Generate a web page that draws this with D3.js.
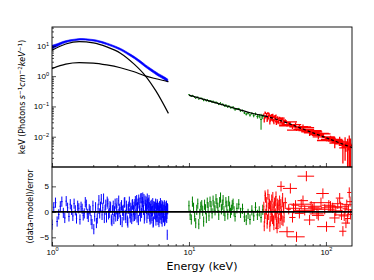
<!DOCTYPE html>
<html lang="en">
<head>
<meta charset="utf-8">
<title>Spectrum fit</title>
<script src="https://d3js.org/d3.v7.min.js"></script>
<style>
  body { margin: 0; background: #fff; }
  svg { display: block; font-family: "DejaVu Sans", sans-serif; }
  .frame { fill: none; stroke: #000; stroke-width: 0.9; }
  .axis text { font-size: 8px; fill: #000; }
  .axis line { stroke: #000; stroke-width: 0.7; }
  .axis path { display: none; }
</style>
</head>
<body>
<script>
// ---- model components (soft band, 1-7 keV) ----
var compE  = [1.0, 1.26, 1.58, 2.0, 2.51, 3.16, 3.98, 4.79, 5.75, 7.08];
var bbodyF = [7.2, 11.5, 13.8, 12.6, 9.3, 5.75, 2.5, 1.05, 0.32, 0.059];
var plawF  = [1.78, 2.5, 2.8, 2.7, 2.35, 1.9, 1.4, 1.02, 0.82, 0.66];

// ---- hard band model ----
var modelE = [10, 14, 20, 28, 36, 45, 55, 70, 85, 100, 120, 140, 155];
var modelF = [0.236, 0.153, 0.096, 0.062, 0.048, 0.036, 0.026, 0.017, 0.0122, 0.0093, 0.0068, 0.0052, 0.0044];

// ---- blue spectrum (top panel) ----
var blueSpecE   = [1.0, 1.1, 1.2, 1.3, 1.4, 1.5, 1.6, 1.75, 1.9, 2.1, 2.3, 2.5, 2.75, 3.0, 3.3, 3.6, 4.0, 4.4, 4.8, 5.2, 5.6, 6.0, 6.5, 7.0];
var blueSpecF   = [9.2, 10.8, 12.9, 14.3, 15.3, 16.0, 16.6, 16.4, 15.7, 14.8, 13.3, 11.8, 10.1, 8.6, 7.0, 5.5, 4.1, 3.0, 2.2, 1.7, 1.35, 1.1, 0.9, 0.72];
var blueSpecErr = [1.2, 1.1, 1.0, 0.95, 0.9, 0.9, 0.9, 0.9, 0.9, 0.85, 0.8, 0.75, 0.65, 0.58, 0.5, 0.42, 0.33, 0.26, 0.2, 0.16, 0.13, 0.11, 0.09, 0.08];

// ---- blue residuals ----
var blueResE = [1.00,1.03,1.06,1.09,1.12,1.15,1.18,1.21,1.24,1.27,1.30,1.33,1.36,1.39,1.42,1.45,1.48,1.51,1.54,1.57,
                1.60,1.63,1.66,1.69,1.72,1.75,1.78,1.81,1.84,1.87,1.90,1.93,1.96,1.99,2.02,2.05,2.08,2.11,2.14,2.17,
                2.20,2.23,2.26,2.29,2.32,2.35,2.38,2.41,2.44,2.47,2.50,2.53,2.56,2.59,2.62,2.65,2.68,2.71,2.74,2.77,
                2.80,2.83,2.86,2.89,2.92,2.95,2.98,3.01,3.04,3.07,3.10,3.13,3.16,3.19,3.22,3.25,3.28,3.31,3.34,3.37,
                3.40,3.43,3.46,3.49,3.52,3.55,3.58,3.61,3.64,3.67,3.70,3.73,3.76,3.79,3.82,3.85,3.88,3.91,3.94,3.97,
                4.00,4.03,4.06,4.09,4.12,4.15,4.18,4.21,4.24,4.27,4.30,4.33,4.36,4.39,4.42,4.45,4.48,4.51,4.54,4.57,
                4.60,4.63,4.66,4.69,4.72,4.75,4.78,4.81,4.84,4.87,4.90,4.93,4.96,4.99,5.02,5.05,5.08,5.11,5.14,5.17,
                5.20,5.23,5.26,5.29,5.32,5.35,5.38,5.41,5.44,5.47,5.50,5.53,5.56,5.59,5.62,5.65,5.68,5.71,5.74,5.77,
                5.80,5.83,5.86,5.89,5.92,5.95,5.98,6.01,6.04,6.07,6.10,6.13,6.16,6.19,6.22,6.25,6.28,6.31,6.34,6.37,
                6.40,6.43,6.46,6.49,6.52,6.55,6.58,6.61,6.64,6.67,6.70,6.73,6.76,6.79,6.82,6.85,6.88,6.91,6.94,6.97,
                7.00];
var blueRes = [-2.5,0.9, 1.8,-1.9, -0.5,1.1, 2.0,-0.2, -1.2,2.1, 0.8,-0.9, 1.5,0.4, -0.8,1.6, 0.3,-1.3, 1.2,0.7,
               -1.5,1.0, 0.6,-0.7, -0.3,1.9, 1.4,-0.4, -1.0,0.5, 0.2,-1.6, -2.4,1.2, -3.4,-0.9, 0.9,-2.2, -1.3,0.6,
               2.3,-0.3, 1.0,2.5, -0.6,0.8, 2.6,-1.2, 0.4,1.4, -1.1,2.0, 1.6,-0.5, -0.2,1.1, 0.9,-1.5, -1.8,0.3,
               1.2,-1.4, 0.1,1.6, -0.9,0.5, 1.7,-0.8, -0.4,2.2, 0.6,-0.1, -1.6,0.9, 1.3,-2.0, 0.2,0.4, -0.7,1.8,
               1.9,-0.6, -1.2,1.2, 0.5,-1.7, -2.1,0.6, 1.0,2.0, -0.3,-1.1, 0.8,0.2, -1.4,1.4, 1.5,-0.9, 0.3,1.0,
               -0.8,1.5, 2.1,-0.5, 0.7,2.3, -1.1,0.9, 1.6,-1.6, 2.4,1.8, 0.2,0.5, -0.9,2.6, 2.7,-0.2, 1.1,1.9,
               2.8,1.2, 0.4,2.5, -1.3,-0.7, 2.2,0.8, 1.4,2.0, 0.6,-1.2, 2.6,1.5, -0.4,0.3, 1.8,2.3, 0.9,-0.9,
               -1.5,0.6, 1.2,-1.3, 0.1,1.4, -0.8,0.2, 1.7,-2.1, -1.9,1.1, 0.5,-0.4, 1.0,0.9, -0.6,1.6, -1.7,-1.0,
               0.8,-0.3, 1.5,1.2, -1.0,-1.6, 0.3,0.8, -2.0,0.1, 1.1,-1.2, -0.5,1.7, 0.7,-0.6, -1.4,0.5, 1.3,-1.9,
               -0.2,1.1, 0.9,-0.8, -1.1,0.4, 0.4,1.3, -1.8,-1.5, 1.0,0.2, -0.7,-1.0, 0.6,1.2, -1.2,-0.4, -4.5,0.7,
               0.5];

// ---- green spectrum + residuals ----
var greenE   = [10.0,10.2,10.4,10.6,10.8,11.0,11.2,11.4,11.6,11.8,12.0,12.2,12.4,12.6,12.8,13.0,13.2,13.4,13.6,13.8,
                14.0,14.25,14.5,14.75,15.0,15.25,15.5,15.75,16.0,16.25,16.5,16.75,17.0,17.25,17.5,17.75,18.0,18.3,18.6,18.9,
                19.2,19.5,19.8,20.1,20.4,20.7,21.0,21.35,21.7,22.4,23.1,23.8,24.6,25.4,26.2,27.0,27.9,28.8,29.7,30.6,
                31.6,32.6,33.6,34.6];
var greenF   = [0.245,0.226,0.214,0.232,0.218,0.202,0.187,0.200,0.204,0.175,0.182,0.187,0.186,0.174,0.156,0.172,0.165,0.153,0.167,0.157,
                0.145,0.155,0.150,0.138,0.149,0.138,0.132,0.139,0.135,0.126,0.116,0.125,0.131,0.115,0.119,0.117,0.108,0.101,0.112,0.104,
                0.095,0.103,0.100,0.091,0.092,0.092,0.096,0.085,0.078,0.083,0.084,0.072,0.0735,0.0615,0.0557,0.060,0.052,0.0587,0.0497,0.057,
                0.0465,0.0485,0.037,0.046];
var greenErr = [0.007,0.007,0.007,0.007,0.007,0.007,0.007,0.007,0.007,0.007,0.0065,0.0065,0.007,0.0065,0.007,0.0065,0.0065,0.0065,0.0065,0.0063,
                0.006,0.006,0.006,0.006,0.006,0.006,0.006,0.0058,0.0057,0.0056,0.0055,0.0056,0.0058,0.0055,0.0055,0.0055,0.0055,0.0055,0.0055,0.0055,
                0.0055,0.0055,0.0055,0.0055,0.0055,0.0055,0.0055,0.0055,0.0055,0.0055,0.0055,0.0055,0.0055,0.0055,0.0055,0.0055,0.006,0.006,0.006,0.006,
                0.007,0.008,0.02,0.008];
var greenRes = [1.2,-0.6,-1.5,2.0,0.8,-0.9,-2.2,0.4,1.6,-2.4,-0.4,1.0,1.3,0.2,-1.9,1.4,0.5,-1.2,1.8,0.9,
                -0.8,2.0,1.1,-0.3,2.2,1.1,0.3,2.5,1.7,0.8,-0.6,1.9,2.8,0.5,1.4,2.3,0.2,-0.8,1.9,1.2,
                -0.5,2.1,1.0,-0.2,0.4,1.3,1.6,0.1,-0.9,0.7,1.5,-0.2,0.6,-1.0,-1.6,-0.4,-1.5,0.3,-0.8,0.9,
                -0.6,0.1,-1.1,0.4];

// ---- red spectrum + residuals ----
var redE   = [35.2,35.45,35.7,35.95,36.2,36.45,36.7,36.95,37.2,37.45,37.7,37.95,38.2,38.45,38.7,38.95,39.2,39.45,39.7,39.95,
              40.2,40.45,40.7,40.95,41.2,41.45,41.7,41.95,42.2,42.45,42.7,42.95,43.2,43.45,43.7,43.95,44.0,44.2,44.45,44.7,
              44.95,45.3,45.6,45.9,46.2,46.5,46.8,47.0,47.1,47.4,47.7,48.0,48.3,48.6,48.9,49.2,49.5,50.5,52.0,53.5,
              55.0,57.0,58.0,60.0,61.0,64.0,66.0,68.0,70.0,72.0,76.0,78.0,80.0,82.0,86.0,88.0,92.0,95.0,98.0,101.0,
              105.0,108.0,112.0,116.0,118.0,122.0,126.0,128.0,130.0,133.0,136.0,138.0,140.0,142.0,144.0,146.0,148.0,150.0,151.0];
var redDE  = [0.3,0.25,0.3,0.25,0.3,0.25,0.3,0.25,0.3,0.25,0.3,0.25,0.3,0.25,0.3,0.25,0.3,0.25,0.3,0.25,
              0.3,0.25,0.3,0.25,0.3,0.25,0.3,0.25,0.3,0.25,0.3,0.25,0.3,0.25,0.3,0.25,1.5,0.3,0.25,0.3,
              0.25,0.3,0.25,0.3,0.25,0.3,0.25,3.0,0.3,0.25,0.3,0.25,0.3,0.25,0.3,0.25,0.3,1.5,6.5,2.0,
              6.5,3.0,8.0,4.0,9.0,5.0,12.0,6.0,12.0,10.0,7.0,15.0,14.0,8.0,10.0,9.0,16.0,10.0,18.0,15.0,
              12.0,10.0,20.0,10.0,15.0,12.0,8.0,18.0,15.0,8.0,12.0,6.0,10.0,12.0,6.0,9.0,5.0,8.0,4.0];
var redF   = [0.0539,0.035,0.0427,0.063,0.0611,0.046,0.0489,0.055,0.0356,0.039,0.061,0.049,0.0421,0.056,0.0507,0.031,0.0357,0.048,0.0441,0.039,
              0.0523,0.044,0.0358,0.053,0.0447,0.034,0.0299,0.045,0.047,0.037,0.0381,0.047,0.0503,0.029,0.0344,0.041,0.031,0.040,0.043,0.0298,
              0.032,0.0402,0.037,0.0426,0.027,0.0315,0.039,0.041,0.0342,0.032,0.0276,0.039,0.0408,0.026,0.0337,0.034,0.0275,0.0336,0.023,0.028,
              0.031,0.022,0.025,0.025,0.0165,0.0198,0.021,0.0215,0.0175,0.020,0.0135,0.0158,0.0145,0.0138,0.0117,0.0112,0.0125,0.0128,0.0099,0.0075,
              0.0095,0.0088,0.0082,0.0062,0.0072,0.0075,0.0074,0.0067,0.0058,0.0043,0.0052,0.0056,0.0047,0.0056,0.0045,0.0050,0.0060,0.0052,0.0044];
var redErr = [0.0048,0.0055,0.0048,0.0055,0.0048,0.0055,0.0048,0.0055,0.0048,0.0055,0.0048,0.0055,0.0048,0.0055,0.0048,0.0055,0.0048,0.0055,0.0048,0.0055,
              0.0041,0.0048,0.0041,0.0048,0.0041,0.0048,0.0041,0.0048,0.0041,0.0048,0.0041,0.0048,0.0041,0.0048,0.0041,0.0048,0.002,0.0041,0.0048,0.0041,
              0.0048,0.0033,0.004,0.0033,0.004,0.0033,0.004,0.003,0.0033,0.004,0.0033,0.004,0.0033,0.004,0.0033,0.004,0.0033,0.0045,0.0015,0.004,
              0.0012,0.004,0.0015,0.004,0.0011,0.004,0.0015,0.004,0.0012,0.0005,0.003,0.001,0.0012,0.003,0.0012,0.003,0.001,0.0008,0.0007,0.0006,
              0.0007,0.002,0.0006,0.002,0.0006,0.0008,0.0025,0.0005,0.0007,0.003,0.0006,0.004,0.0015,0.001,0.004,0.0015,0.005,0.0012,0.0044];
var redRes = [1.0,-2.8,-1.2,3.2,2.8,-0.4,0.4,1.9,-2.3,-1.5,3.4,0.8,-0.6,2.5,1.5,-2.9,-1.8,1.2,0.3,-0.9,
              2.4,0.5,-1.4,2.9,0.9,-1.7,-2.6,1.1,1.8,-0.6,-0.3,2.1,3.0,-2.4,-1.0,0.9,-3.2,0.6,1.6,-2.0,
              -1.3,1.3,0.4,2.2,-2.2,-0.8,1.5,5.0,0.2,-0.5,-1.6,1.9,2.7,-1.8,0.7,0.9,-1.1,1.8,-3.9,0.5,
              4.6,-1.1,0.7,1.3,-4.9,-0.3,1.5,2.2,0.3,7.0,-1.6,1.1,0.6,0.9,-0.4,-0.7,1.8,3.6,0.5,-2.9,
              1.3,1.1,0.8,-1.2,0.2,1.6,2.7,1.0,-0.6,-3.8,-0.8,0.6,-2.2,1.4,-1.3,0.4,3.8,2.0,-0.5];

var w = 374, h = 280;
var pL = 52, pR = 352, pT = 27, pM = 167, pB = 246;

var x = d3.scaleLog().domain([1, 155]).range([pL, pR]);
var yTop = d3.scaleLog().domain([1e-3, 42]).range([pM, pT]);
var yRes = d3.scaleLinear().domain([-6.7, 8.8]).range([pB, pM]);

var svg = d3.select("body").append("svg").attr("width", w).attr("height", h);

svg.append("clipPath").attr("id", "clipTop").append("rect")
   .attr("x", pL).attr("y", pT).attr("width", pR - pL).attr("height", pM - pT);
svg.append("clipPath").attr("id", "clipRes").append("rect")
   .attr("x", pL).attr("y", pM).attr("width", pR - pL).attr("height", pB - pM);

// bin edges half way to neighbours
function edges(E) {
  var lo = [], hi = [];
  for (var i = 0; i < E.length; i++) {
    var prev = i > 0 ? E[i - 1] : E[i] - (E[i + 1] - E[i]);
    var next = i < E.length - 1 ? E[i + 1] : E[i] + (E[i] - E[i - 1]);
    lo.push((prev + E[i]) / 2);
    hi.push((E[i] + next) / 2);
  }
  return [lo, hi];
}

function crosses(g, E, lo, hi, yv, ylo, yhi, ys, color, sw) {
  var p = d3.path();
  for (var i = 0; i < E.length; i++) {
    p.moveTo(x(lo[i]), ys(yv[i])); p.lineTo(x(hi[i]), ys(yv[i]));
    p.moveTo(x(E[i]), ys(ylo[i])); p.lineTo(x(E[i]), ys(yhi[i]));
  }
  g.append("path").attr("d", p.toString()).attr("fill", "none")
   .attr("stroke", color).attr("stroke-width", sw);
}

var fmin = yTop.domain()[0];
function lowClamp(F, err) { return F.map(function (f, i) { return Math.max(f - err[i], fmin); }); }
function high(F, err) { return F.map(function (f, i) { return f + err[i]; }); }

// ---------- top panel ----------
var gt = svg.append("g").attr("clip-path", "url(#clipTop)");

var blueRows = blueSpecE.map(function (e, i) { return {e: e, f: blueSpecF[i], err: blueSpecErr[i]}; });
gt.append("path").datum(blueRows)
  .attr("fill", "#0000ff").attr("stroke", "#0000ff").attr("stroke-width", 0.6)
  .attr("d", d3.area().x(function (d) { return x(d.e); })
    .y0(function (d) { return yTop(d.f - d.err); })
    .y1(function (d) { return yTop(d.f + d.err); })
    .curve(d3.curveMonotoneX));

var ge = edges(greenE);
crosses(gt, greenE, ge[0], ge[1], greenF, lowClamp(greenF, greenErr), high(greenF, greenErr), yTop, "#008000", 1);

var rlo = redE.map(function (e, i) { return e - redDE[i]; });
var rhi = redE.map(function (e, i) { return e + redDE[i]; });
crosses(gt, redE, rlo, rhi, redF, lowClamp(redF, redErr), high(redF, redErr), yTop, "#ff0000", 1.3);

var line = d3.line().x(function (d) { return x(d[0]); }).y(function (d) { return yTop(d[1]); })
             .curve(d3.curveMonotoneX);
gt.append("path").datum(compE.map(function (e, i) { return [e, bbodyF[i]]; }))
  .attr("d", line).attr("fill", "none").attr("stroke", "#000").attr("stroke-width", 1.2);
gt.append("path").datum(compE.map(function (e, i) { return [e, plawF[i]]; }))
  .attr("d", line).attr("fill", "none").attr("stroke", "#000").attr("stroke-width", 1.2);

var modelPts = modelE.map(function (e, i) { return [e, modelF[i]]; });
gt.append("path").datum(modelPts.filter(function (d) { return d[0] <= 36; }))
  .attr("d", line).attr("fill", "none").attr("stroke", "#000").attr("stroke-width", 1.2);
gt.append("path").datum(modelPts.filter(function (d) { return d[0] >= 36; }))
  .attr("d", line).attr("fill", "none").attr("stroke", "#000").attr("stroke-width", 1.2)
  .attr("stroke-dasharray", "3,2");

// ---------- residual panel ----------
var gr = svg.append("g").attr("clip-path", "url(#clipRes)");

var be = edges(blueResE);
crosses(gr, blueResE, be[0], be[1], blueRes,
        blueRes.map(function (r) { return r - 1; }), blueRes.map(function (r) { return r + 1; }), yRes, "#0000ff", 1);
crosses(gr, greenE, ge[0], ge[1], greenRes,
        greenRes.map(function (r) { return r - 1; }), greenRes.map(function (r) { return r + 1; }), yRes, "#008000", 1);
crosses(gr, redE, rlo, rhi, redRes,
        redRes.map(function (r) { return r - 1; }), redRes.map(function (r) { return r + 1; }), yRes, "#ff0000", 1);

gr.append("line").attr("x1", pL).attr("x2", pR).attr("y1", yRes(0)).attr("y2", yRes(0))
  .attr("stroke", "#000").attr("stroke-width", 1.6);

// ---------- axes ----------
function minus(n) { return n < 0 ? "\u2212" + Math.abs(n) : String(n); }
function powLabels(sel) {
  sel.selectAll(".tick text").each(function (d) {
    var t = d3.select(this);
    t.text(null);
    t.append("tspan").text("10");
    t.append("tspan").attr("dy", "-3.2").style("font-size", "5.6px")
     .text(minus(Math.round(Math.log10(d))));
  });
}
function isMajor(v) { return Math.abs(Math.log10(v) - Math.round(Math.log10(v))) < 1e-9; }

var yMajor = yTop.ticks().filter(isMajor).filter(function (v) { return v > fmin; });
var yMinor = yTop.ticks().filter(function (v) { return !isMajor(v); });
svg.append("g").attr("class", "axis").attr("transform", "translate(" + pL + ",0)")
   .call(d3.axisLeft(yTop).tickValues(yMajor).tickSizeInner(-4).tickSizeOuter(0).tickPadding(3))
   .call(powLabels);
svg.append("g").attr("class", "axis").attr("transform", "translate(" + pL + ",0)")
   .call(d3.axisLeft(yTop).tickValues(yMinor).tickSizeInner(-2).tickSizeOuter(0).tickFormat(""));

var xMajor = x.ticks().filter(isMajor);
var xMinor = x.ticks().filter(function (v) { return !isMajor(v); });
[pM, pB].forEach(function (yy) {
  svg.append("g").attr("class", "axis").attr("transform", "translate(0," + yy + ")")
     .call(d3.axisBottom(x).tickValues(xMajor).tickSizeInner(-4).tickSizeOuter(0).tickFormat(""));
  svg.append("g").attr("class", "axis").attr("transform", "translate(0," + yy + ")")
     .call(d3.axisBottom(x).tickValues(xMinor).tickSizeInner(-2).tickSizeOuter(0).tickFormat(""));
});
svg.append("g").attr("class", "axis").attr("transform", "translate(0," + pB + ")")
   .call(d3.axisBottom(x).tickValues(xMajor).tickSize(0).tickPadding(3))
   .call(powLabels);

svg.append("g").attr("class", "axis").attr("transform", "translate(" + pL + ",0)")
   .call(d3.axisLeft(yRes).tickValues([-5, 0, 5]).tickSizeInner(-4).tickSizeOuter(0).tickPadding(3)
         .tickFormat(minus));

svg.append("rect").attr("class", "frame").attr("x", pL).attr("y", pT)
   .attr("width", pR - pL).attr("height", pM - pT);
svg.append("rect").attr("class", "frame").attr("x", pL).attr("y", pM)
   .attr("width", pR - pL).attr("height", pB - pM);

// ---------- labels ----------
var yl = svg.append("text").attr("transform", "translate(24.5," + (pT + pM) / 2 + ") rotate(-90)")
            .attr("text-anchor", "middle").style("font-size", "8px");
yl.append("tspan").text("keV (Photons ");
yl.append("tspan").style("font-style", "italic").text("s");
yl.append("tspan").attr("dy", -3).style("font-size", "5.6px").text("\u22121");
yl.append("tspan").attr("dy", 3).style("font-style", "italic").text("cm");
yl.append("tspan").attr("dy", -3).style("font-size", "5.6px").text("\u22122");
yl.append("tspan").attr("dy", 3).style("font-style", "italic").text("keV");
yl.append("tspan").attr("dy", -3).style("font-size", "5.6px").text("\u22121");
yl.append("tspan").attr("dy", 3).text(")");

svg.append("text").attr("transform", "translate(32.5," + (pM + pB) / 2 + ") rotate(-90)")
   .attr("text-anchor", "middle").style("font-size", "8px").text("(data-model)/error");

svg.append("text").attr("x", (pL + pR) / 2).attr("y", 270)
   .attr("text-anchor", "middle").style("font-size", "11px").text("Energy (keV)");
</script>
</body>
</html>
